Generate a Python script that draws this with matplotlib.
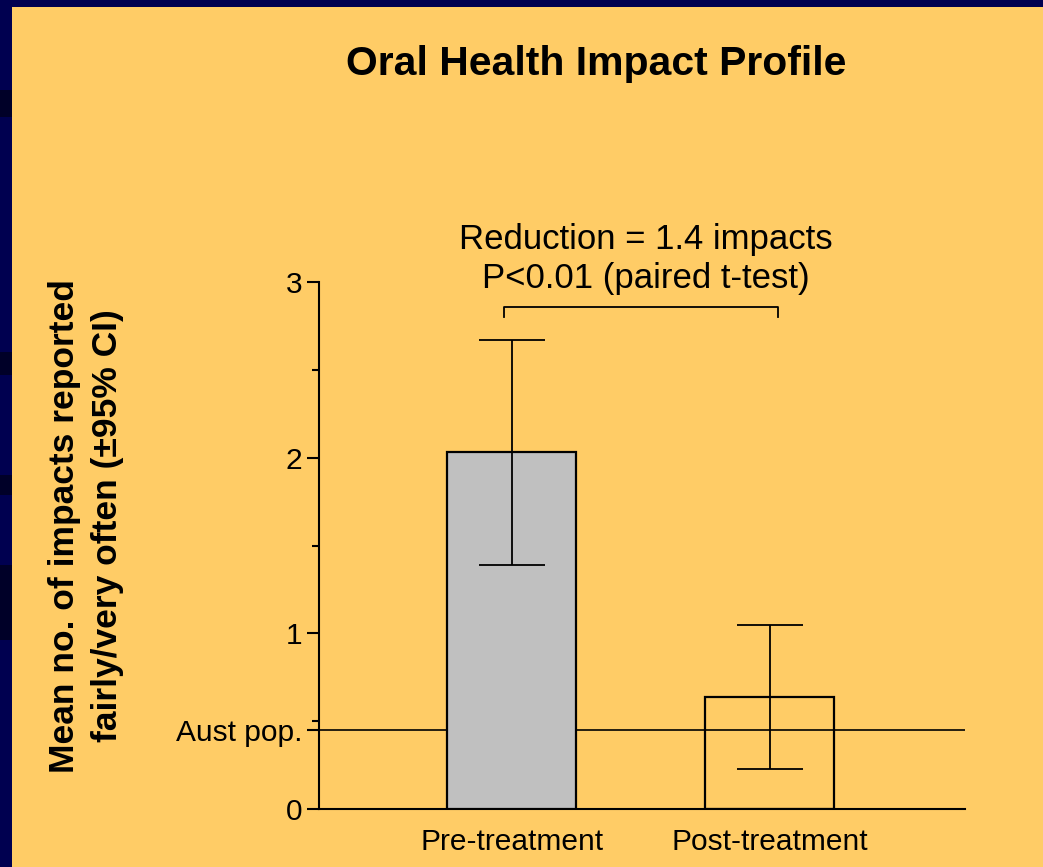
import matplotlib
matplotlib.use('Agg')
import matplotlib.pyplot as plt
from matplotlib.patches import Rectangle

plt.rcParams['font.family'] = ['Liberation Sans', 'DejaVu Sans']

# data
groups = ['Pre-treatment', 'Post-treatment']
means = [2.03, 0.64]
ci_low = [1.39, 0.23]
ci_high = [2.67, 1.05]
aust_pop = 0.45
bracket_y = 2.86
bracket_leg = 2.80
note_lines = ['Reduction = 1.4 impacts', 'P<0.01 (paired t-test)']

bg = '#FFCC66'
navy = '#000050'

fig = plt.figure(figsize=(10.43, 8.67), dpi=100)
fig.patch.set_facecolor(navy)
# yellow slide area (navy frame on top and left)
fig.patches.append(Rectangle((12 / 1043, 0), 1 - 12 / 1043, 1 - 7 / 867,
                             transform=fig.transFigure, facecolor=bg,
                             edgecolor='none', zorder=-10))
# darker bands on the frame
for y0, y1 in [(90, 117), (352, 375), (475, 495), (565, 640)]:
    fig.patches.append(Rectangle((0, 1 - y1 / 867), 12 / 1043, (y1 - y0) / 867,
                                 transform=fig.transFigure, facecolor='#000028',
                                 edgecolor='none', zorder=-10))

ax = fig.add_axes([319 / 1043, 1 - 809 / 867, 646 / 1043, 527 / 867])
ax.set_facecolor('none')
ax.set_zorder(5)

x = [0, 1]
yerr = [[m - l for m, l in zip(means, ci_low)], [h - m for m, h in zip(means, ci_high)]]
ax.bar(x, means, width=0.5, color=['#C0C0C0', 'none'], edgecolor='black',
       linewidth=1.6, zorder=3)
ax.errorbar(x, means, yerr=yerr, fmt='none', ecolor='black', elinewidth=1.3,
            capsize=23.5, capthick=1.3, zorder=4)
ax.axhline(aust_pop, color='black', linewidth=1.2, zorder=2)

# significance bracket
ax.plot([x[0] - 0.03, x[0] - 0.03, x[1] + 0.03, x[1] + 0.03],
        [bracket_leg, bracket_y, bracket_y, bracket_leg],
        color='black', linewidth=1.3, clip_on=False)
ax.text(0.52, 3.243, note_lines[0], ha='center', va='center', fontsize=25)
ax.text(0.52, 3.018, note_lines[1], ha='center', va='center', fontsize=25)

ax.set_xlim(-0.748, 1.756)
ax.set_ylim(0, 3)
ax.set_yticks([0, aust_pop, 1, 2, 3])
ax.set_yticklabels(['0', 'Aust pop.', '1', '2', '3'])
ax.set_yticks([0.5, 1.5, 2.5], minor=True)
ax.set_xticks(x)
ax.set_xticklabels(groups)
ax.tick_params(axis='y', which='major', length=9, width=1.5, labelsize=21.5, pad=3)
ax.tick_params(axis='y', which='minor', length=5, width=1.5)
ax.tick_params(axis='x', length=0, labelsize=21.5, pad=13.5)

for s in ['top', 'right']:
    ax.spines[s].set_visible(False)
for s in ['left', 'bottom']:
    ax.spines[s].set_linewidth(1.5)

fig.text(596 / 1043, 1 - 64 / 867, 'Oral Health Impact Profile', ha='center',
         va='center', fontsize=29.4, fontweight='bold')
fig.text(86 / 1043, 1 - 526 / 867,
         'Mean no. of impacts reported\nfairly/very often (\u00b195% CI)',
         ha='center', va='center', rotation=90, fontsize=25.5,
         fontweight='bold', linespacing=1.38)

fig.savefig('out.png', dpi=100, facecolor=fig.get_facecolor())
